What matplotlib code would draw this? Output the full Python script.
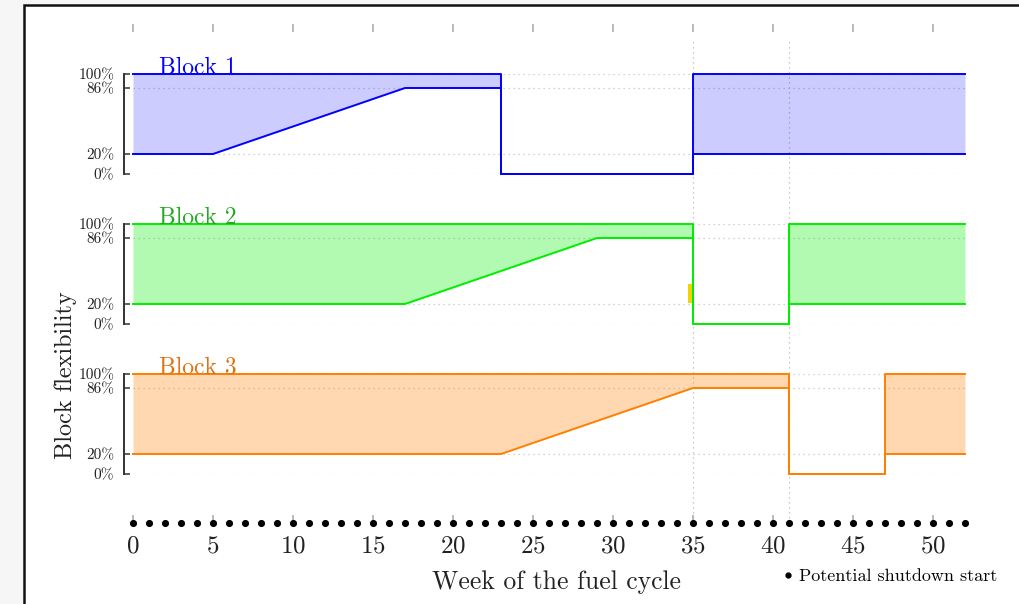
import matplotlib
matplotlib.use('Agg')
import matplotlib.pyplot as plt
from matplotlib.patches import Rectangle
from matplotlib.lines import Line2D

plt.rcParams['font.family'] = ['cmr10', 'DejaVu Serif']
plt.rcParams['axes.formatter.use_mathtext'] = True

# week breakpoints and flexibility bounds (%) for each block
block1_weeks = [0, 5, 17, 23, 23, 35, 35, 52]
block1_upper = [100, 100, 100, 100, 0, 0, 100, 100]
block1_lower = [20, 20, 86, 86, 0, 0, 20, 20]

block2_weeks = [0, 17, 29, 35, 35, 41, 41, 52]
block2_upper = [100, 100, 100, 100, 0, 0, 100, 100]
block2_lower = [20, 20, 86, 86, 0, 0, 20, 20]

block3_weeks = [0, 23, 35, 41, 41, 47, 47, 52]
block3_upper = [100, 100, 100, 100, 0, 0, 100, 100]
block3_lower = [20, 20, 86, 86, 0, 0, 20, 20]

block_names = ['Block 1', 'Block 2', 'Block 3']
line_colors = ['#0000ff', '#00ee00', '#ff8000']
label_colors = ['#0000ff', '#22aa22', '#e07010']
fill_alpha = [0.2, 0.3, 0.3]

y_ticks = [0, 20, 86, 100]
y_ticklabels = ['0%', '20%', '86%', '100%']

shutdown_weeks = list(range(0, 53))
x_ticks = list(range(0, 55, 5))
marked_weeks = [35, 41]

# small yellow marker in block 2
marker_week = 35
marker_low, marker_high = 21, 40

blocks = [
    (block1_weeks, block1_upper, block1_lower),
    (block2_weeks, block2_upper, block2_lower),
    (block3_weeks, block3_upper, block3_lower),
]

W, H = 1020, 604
fig = plt.figure(figsize=(10.2, 6.04), dpi=100)
fig.patch.set_facecolor('#f6f6f6')
fig.patches.append(Rectangle((24 / W, -0.1), 1.1, 1 - 5 / H + 0.1, transform=fig.transFigure,
                             facecolor='white', edgecolor='#111111', linewidth=1.8, zorder=-10))

# main axis: x ticks, potential shutdown dots, vertical markers
ax = fig.add_axes([133 / W, 1 - 523 / H, 832 / W, 499 / H])
ax.set_facecolor('none')
ax.set_xlim(0, 52)
ax.set_ylim(0, 1)
for s in ax.spines.values():
    s.set_visible(False)
ax.set_yticks([])
ax.set_xticks(x_ticks)
ax.tick_params(axis='x', direction='in', top=True, bottom=True, length=6, width=1.1,
               color='#aaaaaa', labelsize=18, pad=9, labelcolor='#222222')
for wk in marked_weeks:
    ax.axvline(wk, ymax=0.97, color='#bbbbbb', lw=0.9, ls=(0, (1, 3)), zorder=0)
ax.scatter(shutdown_weeks, [0] * len(shutdown_weeks), s=17, color='black', clip_on=False, zorder=5)
ax.set_xlabel('Week of the fuel cycle', fontsize=18.5, color='#222222')
ax.xaxis.set_label_coords((557 - 133) / 832, (523 - 570) / 499)

leg_handle = Line2D([], [], ls='none', marker='o', color='black', markersize=3.5)
fig.legend([leg_handle], ['Potential shutdown start'], loc='center left',
           bbox_to_anchor=(783 / W, 1 - 576 / H), frameon=False, fontsize=13,
           handlelength=0.6, handletextpad=0.3, borderpad=0, borderaxespad=0)

fig.text(66 / W, 1 - 375 / H, 'Block flexibility', rotation=90, fontsize=17.5,
         ha='center', va='center', color='#222222')

zero_rows = [174, 324, 474]
left_px = 124
for i, (weeks, upper, lower) in enumerate(blocks):
    bax = fig.add_axes([left_px / W, 1 - zero_rows[i] / H, (965 - left_px) / W, 100 / H])
    bax.set_facecolor('none')
    bax.set_xlim(-(133 - left_px) / 16, 52)
    bax.set_ylim(0, 100)
    for name, s in bax.spines.items():
        s.set_visible(name == 'left')
    bax.spines['left'].set_linewidth(1.4)
    bax.spines['left'].set_color('#333333')
    bax.set_xticks([])
    bax.set_yticks(y_ticks)
    bax.set_yticklabels(y_ticklabels)
    bax.tick_params(axis='y', direction='in', length=4, width=1.1, color='#333333',
                    labelsize=11, pad=7, labelcolor='#222222')
    bax.hlines(y_ticks, 0, 52, colors='#c4c4c4', lw=0.9, linestyles=(0, (1, 3)), zorder=0)
    c = line_colors[i]
    bax.fill_between(weeks, lower, upper, color=c, alpha=fill_alpha[i], lw=0, zorder=1)
    bax.plot(weeks, upper, color=c, lw=1.4, clip_on=False, zorder=3)
    bax.plot(weeks, lower, color=c, lw=1.4, clip_on=False, zorder=3)
    bax.text(1.6, 100, block_names[i], color=label_colors[i], fontsize=17,
             va='baseline', ha='left')
    if i == 1:
        bax.bar(marker_week - 0.15, marker_high - marker_low, bottom=marker_low, width=0.3,
                color='#f2d200', zorder=2)

fig.savefig('out.png', dpi=100)
